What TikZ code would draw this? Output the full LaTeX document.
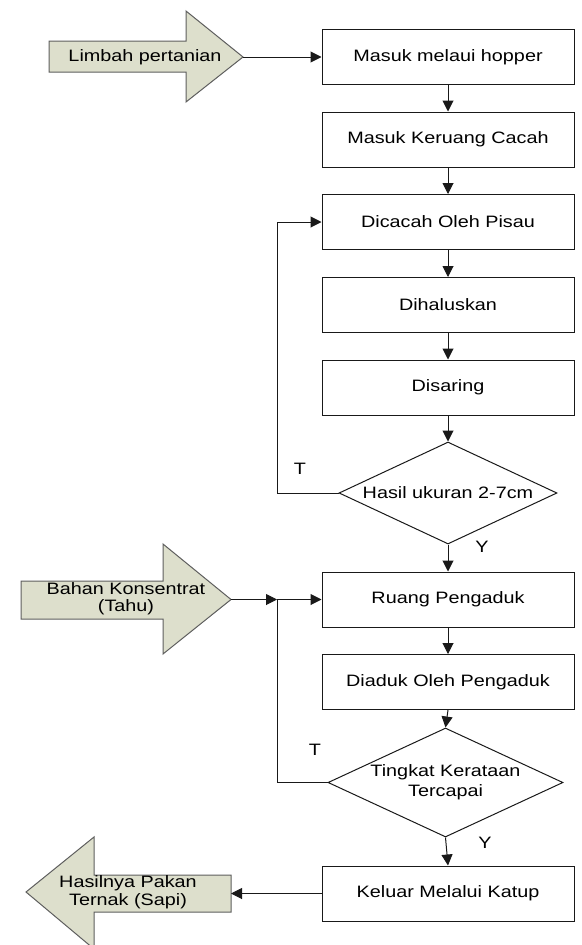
\documentclass[tikz,border=0pt]{standalone}
\usepackage{fontspec}
\setmainfont{Liberation Sans}[FakeStretch=1.2]
\usetikzlibrary{shapes.geometric,arrows.meta}
\definecolor{arrfill}{RGB}{221,223,204}
\definecolor{ln}{RGB}{25,25,25}
\begin{document}
\begin{tikzpicture}[x=1pt,y=-1pt,
  font=\fontsize{16.5}{18}\selectfont,
  proc/.style={draw=ln, line width=1pt, rectangle, minimum width=252pt, minimum height=55pt, inner sep=0pt},
  dia/.style={draw=ln, line width=1pt, diamond, inner sep=0pt},
  conn/.style={draw=ln, line width=1pt},
  arr/.style={conn, -{Triangle[length=11pt,width=11pt]}},
  bigarr/.style={fill=arrfill, draw=ln!70, line width=1pt},
  lbl/.style={inner sep=0pt, align=center}]
\useasboundingbox (0,0) rectangle (581,945);
% process boxes
\node[proc] (b1) at (448,57) {Masuk melaui hopper};
\node[proc] (b2) at (448,139.5) {Masuk Keruang Cacah};
\node[proc] (b3) at (448,222) {Dicacah Oleh Pisau};
\node[proc] (b4) at (448,305) {Dihaluskan};
\node[proc] (b5) at (448,387.5) {Disaring};
\node[dia, minimum width=218pt, minimum height=102pt] (d1) at (448,493) {};
\node[lbl] (d1t) at (448,493) {Hasil ukuran 2-7cm};
\node[proc] (b6) at (448,599.5) {Ruang Pengaduk};
\node[proc] (b7) at (448,682) {Diaduk Oleh Pengaduk};
\node[dia, minimum width=235pt, minimum height=109pt] (d2) at (445.5,782.5) {};
\node[lbl, font=\fontsize{16.5}{19.5}\selectfont] (d2t) at (445.5,782) {Tingkat Kerataan\\Tercapai};
\node[proc] (b8) at (448,893.5) {Keluar Melalui Katup};
% big arrow 1
\draw[bigarr] (49,41) -- (186,41) -- (186,11) -- (243,57) -- (186,102) -- (186,72) -- (49,72) -- cycle;
\coordinate (tA) at (243,57);
\node[lbl] (lA) at (145,57) {Limbah pertanian};
% big arrow 2
\draw[bigarr] (21,581) -- (163,581) -- (163,544) -- (231,599.5) -- (163,654) -- (163,619) -- (21,619) -- cycle;
\coordinate (tB) at (231,599.5);
\node[lbl, font=\fontsize{16.5}{17}\selectfont] (lB) at (126,599) {Bahan Konsentrat\\(Tahu)};
% big arrow 3
\draw[bigarr] (231,875) -- (94,875) -- (94,837) -- (26,892) -- (94,949) -- (94,912) -- (231,912) -- cycle;
\coordinate (tC) at (231,893.5);
\node[lbl, font=\fontsize{16.5}{18}\selectfont] (lC) at (128,892) {Hasilnya Pakan\\Ternak (Sapi)};
% connectors
\draw[arr] (tA) -- (b1.west);
\draw[arr] (b1) -- (b2);
\draw[arr] (b2) -- (b3);
\draw[arr] (b3) -- (b4);
\draw[arr] (b4) -- (b5);
\draw[arr] (b5.south) -- (d1.north);
\coordinate (c1) at (277,222);
\draw[arr] (d1.west) -| (c1) -- (b3.west);
\draw[arr] (d1.south) -- (b6.north);
\coordinate (j2) at (277,599.5);
\draw[arr] (tB) -- (j2);
\draw[arr] (j2) -- (b6.west);
\draw[conn] (d2.west) -| (j2);
\draw[arr] (b6) -- (b7);
\draw[arr] (b7.south) -- (d2.north);
\draw[arr] (d2.south) -- (b8.north);
\draw[arr] (b8.west) -- (tC);
% labels
\node[lbl] (T1) at (300,469) {T};
\node[lbl] (Y1) at (482,547) {Y};
\node[lbl] (T2) at (315,750) {T};
\node[lbl] (Y2) at (485,843) {Y};
\end{tikzpicture}
\end{document}
